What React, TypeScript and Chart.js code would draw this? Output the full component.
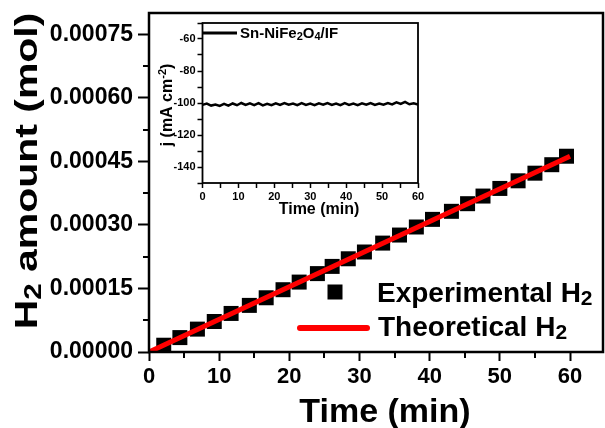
import React, { useEffect, useRef } from "react";
import { Chart, registerables } from "chart.js";

Chart.register(...registerables);

// Main chart data
const expTime = [2.1, 4.4, 6.9, 9.3, 11.7, 14.3, 16.7, 19.1, 21.4, 24.0, 26.1, 28.4, 30.7, 33.3, 35.7, 38.1, 40.4, 43.1, 45.4, 47.6, 50.0, 52.6, 55.0, 57.4, 59.5];
const expH2 = [0.000016, 0.000034, 0.000054, 0.000072, 0.000091, 0.00011, 0.000128, 0.000147, 0.000165, 0.000185, 0.000202, 0.00022, 0.000236, 0.000257, 0.000276, 0.000295, 0.000313, 0.000332, 0.00035, 0.000368, 0.000386, 0.000404, 0.000422, 0.000442, 0.000462];
const theoTime = [0, 60];
const theoH2 = [0, 0.000462];

// Inset data
const insetTime = [0, 1.2, 2.4, 3.6, 4.8, 6, 7.2, 8.4, 9.6, 10.8, 12, 13.2, 14.4, 15.6, 16.8, 18, 19.2, 20.4, 21.6, 22.8, 24, 25.2, 26.4, 27.6, 28.8, 30, 31.2, 32.4, 33.6, 34.8, 36, 37.2, 38.4, 39.6, 40.8, 42, 43.2, 44.4, 45.6, 46.8, 48, 49.2, 50.4, 51.6, 52.8, 54, 55.2, 56.4, 57.6, 58.8, 60];
const insetJ = [-101.2, -100.4, -101.6, -100.9, -101.8, -100.6, -101.7, -100.3, -101.4, -100.0, -101.2, -100.2, -101.3, -100.1, -101.5, -100.5, -101.3, -100.2, -101.2, -100.0, -101.1, -100.3, -101.3, -100.1, -101.2, -100.4, -101.4, -100.2, -101.1, -100.0, -101.2, -100.3, -101.3, -100.1, -101.2, -100.4, -101.3, -100.2, -101.1, -100.0, -101.2, -100.3, -101.0, -100.1, -100.9, -99.6, -100.6, -99.3, -100.8, -100.2, -101.0];

const FONT = "'Liberation Sans', Arial, Helvetica, sans-serif";

type Part = { t: string; s?: "sub" | "sup" };

function partFont(size: number, p: Part, subScale: number) {
  return `bold ${p.s ? Math.round(size * subScale) : size}px ${FONT}`;
}

function drawRich(ctx: CanvasRenderingContext2D, parts: Part[], x: number, y: number, size: number, align: "left" | "center", subScale = 0.7) {
  let w = 0;
  for (const p of parts) {
    ctx.font = partFont(size, p, subScale);
    w += ctx.measureText(p.t).width;
  }
  let cx = align === "center" ? x - w / 2 : x;
  ctx.textAlign = "left";
  ctx.textBaseline = "alphabetic";
  ctx.fillStyle = "#000";
  for (const p of parts) {
    ctx.font = partFont(size, p, subScale);
    const dy = p.s === "sub" ? size * 0.12 : p.s === "sup" ? -size * 0.4 : 0;
    ctx.fillText(p.t, cx, y + dy);
    cx += ctx.measureText(p.t).width;
  }
}

function filterStep(step: number) {
  return (scale: any) => {
    scale.ticks = scale.ticks.filter((t: any) => Math.abs(t.value / step - Math.round(t.value / step)) < 1e-6);
  };
}

function isMajor(v: number, major: number) {
  return Math.abs(v / major - Math.round(v / major)) < 1e-6;
}

function fixBox(prop: "width" | "height", size: number) {
  return (s: any) => {
    s[prop] = size;
    s.paddingTop = 0;
    s.paddingBottom = 0;
    s.paddingLeft = 0;
    s.paddingRight = 0;
  };
}

const mainPlugin = {
  id: "mainDecor",
  afterDraw(chart: any) {
    const ctx: CanvasRenderingContext2D = chart.ctx;
    const a = chart.chartArea;
    ctx.save();
    ctx.strokeStyle = "#000";

    // minor ticks (shorter)
    ctx.lineWidth = 2;
    const xs = chart.scales.x;
    const ys = chart.scales.y;
    ctx.beginPath();
    for (const t of xs.ticks) {
      if (!isMajor(t.value, 10)) {
        const px = Math.round(xs.getPixelForValue(t.value));
        ctx.moveTo(px, a.bottom);
        ctx.lineTo(px, a.bottom + 6);
      }
    }
    for (const t of ys.ticks) {
      if (!isMajor(t.value, 0.00015)) {
        const py = Math.round(ys.getPixelForValue(t.value));
        ctx.moveTo(a.left, py);
        ctx.lineTo(a.left - 6, py);
      }
    }
    ctx.stroke();

    ctx.lineWidth = 2.5;
    ctx.strokeRect(a.left, a.top, a.right - a.left, a.bottom - a.top);

    // Y title
    ctx.save();
    ctx.translate(37, 171);
    ctx.rotate(-Math.PI / 2);
    ctx.scale(1.28, 1);
    drawRich(ctx, [{ t: "H" }, { t: "2", s: "sub" }, { t: " amount (mol)" }], 0, 0, 32, "center", 0.72);
    ctx.restore();

    // X title
    drawRich(ctx, [{ t: "Time (min)" }], 385, 422, 34, "center");

    // Legend
    ctx.fillStyle = "#000";
    ctx.fillRect(335 - 7.5, 292 - 7.5, 15, 15);
    drawRich(ctx, [{ t: "Experimental H" }, { t: "2", s: "sub" }], 377, 302, 28, "left", 0.75);
    ctx.strokeStyle = "#ff0000";
    ctx.lineWidth = 6;
    ctx.lineCap = "round";
    ctx.beginPath();
    ctx.moveTo(300, 328);
    ctx.lineTo(367, 328);
    ctx.stroke();
    drawRich(ctx, [{ t: "Theoretical H" }, { t: "2", s: "sub" }], 378, 336, 28, "left", 0.75);
    ctx.restore();
  },
};

const insetPlugin = {
  id: "insetDecor",
  afterDraw(chart: any) {
    const ctx: CanvasRenderingContext2D = chart.ctx;
    const a = chart.chartArea;
    ctx.save();
    ctx.strokeStyle = "#000";
    ctx.lineWidth = 1.8;
    ctx.strokeRect(a.left, a.top, a.right - a.left, a.bottom - a.top);

    // legend
    ctx.lineWidth = 3;
    ctx.beginPath();
    ctx.moveTo(53, 23);
    ctx.lineTo(87, 23);
    ctx.stroke();
    drawRich(ctx, [{ t: "Sn-NiFe" }, { t: "2", s: "sub" }, { t: "O" }, { t: "4", s: "sub" }, { t: "/IF" }], 90, 28, 15, "left");

    // x title
    drawRich(ctx, [{ t: "Time (min)" }], 169, 204, 16, "center");

    // y title
    ctx.save();
    ctx.translate(22, 95);
    ctx.rotate(-Math.PI / 2);
    drawRich(ctx, [{ t: "j (mA cm" }, { t: "-2", s: "sup" }, { t: ")" }], 0, 0, 16, "center");
    ctx.restore();
    ctx.restore();
  },
};

export default function App() {
  const mainRef = useRef<HTMLCanvasElement | null>(null);
  const insetRef = useRef<HTMLCanvasElement | null>(null);

  useEffect(() => {
    document.body.style.margin = "0";
    const xTickFont = { family: FONT, size: 22, weight: "bold" as const };
    const yTickFont = { family: FONT, size: 23, weight: "bold" as const };
    const main = new Chart(mainRef.current!, {
      type: "scatter",
      data: {
        datasets: [
          {
            label: "Theoretical H2",
            data: theoTime.map((t, i) => ({ x: t, y: theoH2[i] })),
            showLine: true,
            borderColor: "#ff0000",
            borderWidth: 5,
            pointRadius: 0,
            fill: false,
          },
          {
            label: "Experimental H2",
            data: expTime.map((t, i) => ({ x: t, y: expH2[i] })),
            showLine: false,
            pointStyle: "rect",
            pointRadius: 10.6,
            pointBorderWidth: 0,
            backgroundColor: "#000",
            borderColor: "#000",
          },
        ],
      },
      options: {
        animation: false,
        responsive: false,
        devicePixelRatio: 1,
        layout: { autoPadding: false, padding: { top: 13, right: 2, left: 0, bottom: 0 } },
        plugins: { legend: { display: false }, tooltip: { enabled: false } },
        scales: {
          x: {
            type: "linear",
            min: 0,
            max: 64.7,
            afterBuildTicks: filterStep(5),
            afterFit: fixBox("height", 76),
            ticks: {
              stepSize: 5,
              includeBounds: false,
              maxTicksLimit: 30,
              autoSkip: false,
              maxRotation: 0,
              padding: 3,
              color: "#000",
              font: xTickFont,
              callback: (v: any) => (Math.round(v) % 10 === 0 ? String(Math.round(v)) : ""),
            },
            grid: {
              display: true,
              drawOnChartArea: false,
              drawTicks: true,
              tickLength: 9,
              tickWidth: 2,
              tickColor: (c: any) => (c.tick && isMajor(c.tick.value, 10) ? "#000" : "rgba(0,0,0,0)"),
            },
            border: { display: false },
          },
          y: {
            type: "linear",
            min: 0,
            max: 0.0008,
            afterBuildTicks: filterStep(0.000075),
            afterFit: fixBox("width", 149),
            ticks: {
              stepSize: 0.000075,
              includeBounds: false,
              maxTicksLimit: 30,
              autoSkip: false,
              padding: 5,
              color: "#000",
              font: yTickFont,
              callback: (v: any) => {
                const k = Math.round(v / 0.000075);
                return k % 2 === 0 ? (k * 0.000075).toFixed(5) : "";
              },
            },
            grid: {
              display: true,
              drawOnChartArea: false,
              drawTicks: true,
              tickLength: 11,
              tickWidth: 2,
              tickColor: (c: any) => (c.tick && isMajor(c.tick.value, 0.00015) ? "#000" : "rgba(0,0,0,0)"),
            },
            border: { display: false },
          },
        },
      },
      plugins: [mainPlugin],
    } as any);

    const insetFont = { family: FONT, size: 11, weight: "bold" as const };
    const inset = new Chart(insetRef.current!, {
      type: "scatter",
      data: {
        datasets: [
          {
            label: "Sn-NiFe2O4/IF",
            data: insetTime.map((t, i) => ({ x: t, y: insetJ[i] })),
            showLine: true,
            borderColor: "#000",
            borderWidth: 2.5,
            pointRadius: 0,
            fill: false,
          },
        ],
      },
      options: {
        animation: false,
        responsive: false,
        devicePixelRatio: 1,
        layout: { autoPadding: false, padding: { top: 13, right: 17, left: 0, bottom: 0 } },
        plugins: { legend: { display: false }, tooltip: { enabled: false } },
        scales: {
          x: {
            type: "linear",
            min: 0,
            max: 60,
            afterBuildTicks: filterStep(5),
            afterFit: fixBox("height", 42),
            ticks: {
              stepSize: 5,
              includeBounds: false,
              maxTicksLimit: 30,
              autoSkip: false,
              maxRotation: 0,
              padding: 2,
              color: "#000",
              font: insetFont,
              callback: (v: any) => (Math.round(v) % 10 === 0 ? String(Math.round(v)) : ""),
            },
            grid: { display: true, drawOnChartArea: false, drawTicks: true, tickLength: 5, tickWidth: 1.5, tickColor: "#000" },
            border: { display: false },
          },
          y: {
            type: "linear",
            min: -150,
            max: -50,
            afterBuildTicks: filterStep(10),
            afterFit: fixBox("width", 52.5),
            ticks: {
              stepSize: 10,
              includeBounds: false,
              maxTicksLimit: 30,
              autoSkip: false,
              padding: 2,
              color: "#000",
              font: insetFont,
              callback: (v: any) => (Math.round(v) % 20 === 0 ? String(Math.round(v)) : ""),
            },
            grid: { display: true, drawOnChartArea: false, drawTicks: true, tickLength: 5, tickWidth: 1.5, tickColor: "#000" },
            border: { display: false },
          },
        },
      },
      plugins: [insetPlugin],
    } as any);

    return () => {
      main.destroy();
      inset.destroy();
    };
  }, []);

  return (
    <div style={{ position: "relative", width: 605, height: 428, background: "#fff" }}>
      <canvas ref={mainRef} width={605} height={428} style={{ position: "absolute", left: 0, top: 0, width: 605, height: 428 }} />
      <canvas ref={insetRef} width={285} height={215} style={{ position: "absolute", left: 150, top: 10, width: 285, height: 215 }} />
    </div>
  );
}
